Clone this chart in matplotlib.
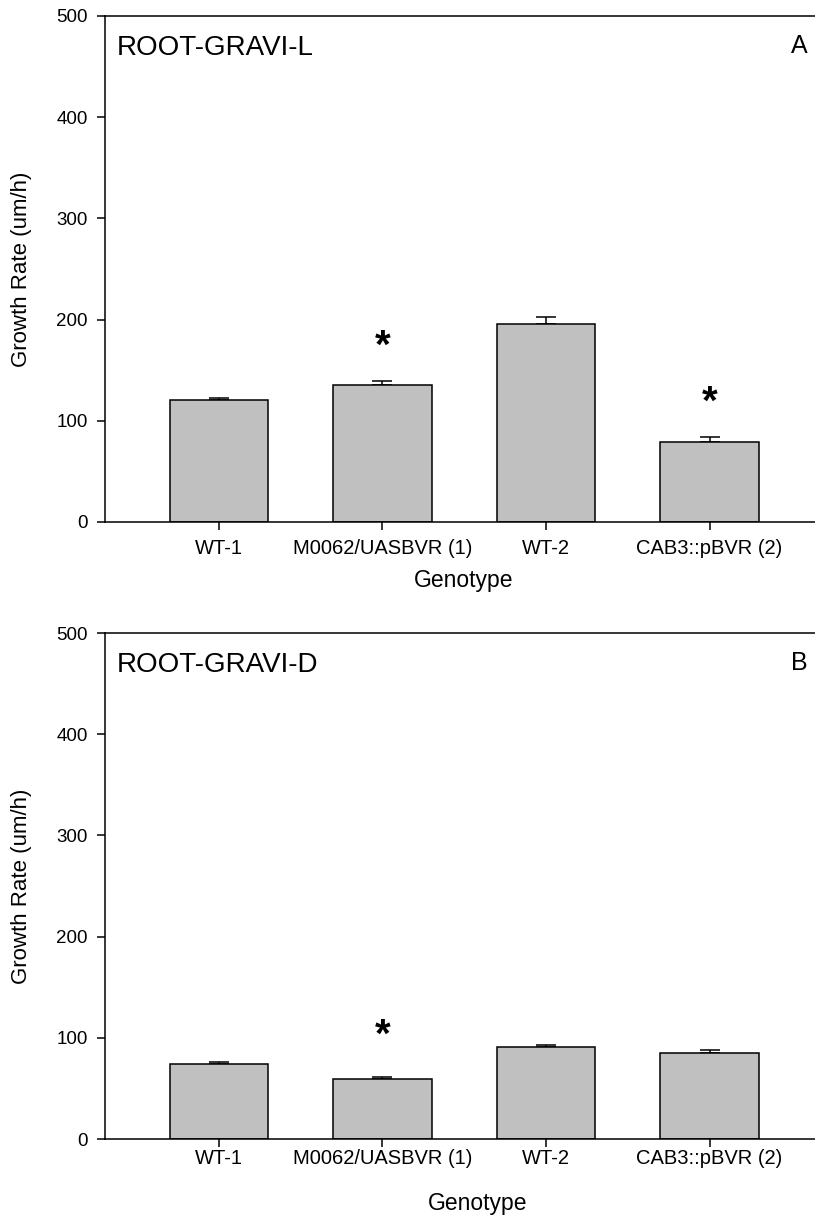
import numpy as np
import matplotlib
matplotlib.use("Agg")
import matplotlib.pyplot as plt

plt.rcParams["font.family"] = ["Liberation Sans", "DejaVu Sans"]

genotypes = ["WT-1", "M0062/UASBVR (1)", "WT-2", "CAB3::pBVR (2)"]

# panel A: ROOT-GRAVI-L
light_mean = [121, 135.5, 196, 79]
light_err = [2, 3.5, 7, 5]
light_star = [None, 173, None, 118]

# panel B: ROOT-GRAVI-D
dark_mean = [74, 59.5, 91, 85]
dark_err = [1.8, 2, 2.3, 3]
dark_star = [None, 102, None, None]

W, H = 815, 1219
fig = plt.figure(figsize=(W / 100, H / 100), dpi=100)

ax1 = fig.add_axes([105 / W, 1 - 522 / H, 710 / W, 506 / H])
ax2 = fig.add_axes([105 / W, 1 - 1139 / H, 710 / W, 506 / H])


def panel(ax, means, errs, stars, title, letter, tick_pad, xlab_y, xlab_x):
    x = np.arange(len(genotypes))
    ax.bar(x, means, width=0.6, color="#c0c0c0", edgecolor="black", linewidth=1.1, zorder=2)
    ax.errorbar(x, means, yerr=[np.zeros(len(errs)), errs], fmt="none", ecolor="black",
                elinewidth=1.1, capsize=7, capthick=1.1, zorder=1)
    for xi, s in zip(x, stars):
        if s is not None:
            ax.text(xi, s, "*", ha="center", va="center", fontsize=29, fontweight="bold")

    ax.set_xlim(-0.697, 3.645)
    ax.set_ylim(0, 500)
    ax.set_yticks([0, 100, 200, 300, 400, 500])
    ax.set_xticks(x)
    ax.set_xticklabels(genotypes)
    ax.spines["right"].set_visible(False)
    for s in ["left", "bottom", "top"]:
        ax.spines[s].set_linewidth(1.1)
    ax.tick_params(axis="y", direction="out", length=5.5, width=1.1, labelsize=13.5, pad=7)
    ax.tick_params(axis="x", direction="out", length=5.5, width=1.1, labelsize=14.5, pad=tick_pad)

    ax.set_ylabel("Growth Rate (um/h)", fontsize=16)
    ax.yaxis.set_label_coords(-0.103, 0.5)
    ax.set_xlabel("Genotype", fontsize=16.5)
    ax.xaxis.label.set_va("baseline")
    ax.xaxis.set_label_coords(xlab_x, xlab_y)

    ax.text(0.017, 0.923, title, transform=ax.transAxes, fontsize=20, va="baseline", ha="left")
    ax.text(0.990, 0.927, letter, transform=ax.transAxes, fontsize=18, va="baseline", ha="right")


panel(ax1, light_mean, light_err, light_star, "ROOT-GRAVI-L", "A", 7, -65 / 506, 0.505)
panel(ax2, dark_mean, dark_err, dark_star, "ROOT-GRAVI-D", "B", 1.5, -71 / 506, 0.525)

fig.savefig("out.png", dpi=100)
